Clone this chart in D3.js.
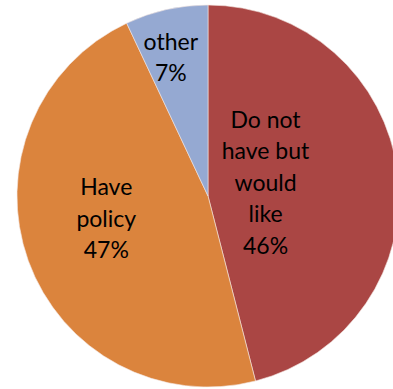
<!DOCTYPE html>
<html><head><meta charset="utf-8">
<script src="https://cdn.jsdelivr.net/npm/d3@7"></script>
<style>html,body{margin:0;padding:0;background:#fff;overflow:hidden}</style>
</head><body>
<svg id="chart" width="393" height="389"></svg>
<script>
const categories = ["Do not have but would like", "Have policy", "other"];
const values = [46, 47, 7];
const labelLines = [["Do not", "have but", "would", "like", "46%"], ["Have", "policy", "47%"], ["other", "7%"]];
const colors = ["#AA4644", "#DB843D", "#95A9D2"];

const svg = d3.select("#chart");
const cx = 208, cy = 196, r = 191;
const g = svg.append("g").attr("transform", `translate(${cx},${cy})`);

const pie = d3.pie().sort(null).value(d => d.v);
const data = pie(categories.map((c, i) => ({c, v: values[i], i})));
const arc = d3.arc().innerRadius(0).outerRadius(r);

g.selectAll("path").data(data).join("path")
  .attr("d", arc)
  .attr("fill", d => colors[d.data.i])
  .attr("stroke", "#f4e6e0").attr("stroke-width", 0.6);

// label placement (radius from center along slice mid-angle, plus nudge)
const labelLayout = [{rad: 58, dx: 0, dy: -6}, {rad: 106, dx: -2, dy: -13}, {rad: 143, dx: -6, dy: 1}];
const lineH = 31.5, fs = 23;
data.forEach(d => {
  const L = labelLayout[d.data.i];
  const a = (d.startAngle + d.endAngle) / 2;
  const x = Math.sin(a) * L.rad + L.dx;
  const y = -Math.cos(a) * L.rad + L.dy;
  const lines = labelLines[d.data.i];
  const t = g.append("text")
    .attr("text-anchor", "middle")
    .attr("font-family", "Lato, 'Open Sans', sans-serif")
    .attr("font-size", fs)
    .attr("fill", "#000");
  const y0 = y - (lines.length - 1) * lineH / 2;
  lines.forEach((s, k) => {
    t.append("tspan").attr("x", x).attr("y", y0 + k * lineH).attr("dy", "0.35em").text(s);
  });
});
</script>
</body></html>
